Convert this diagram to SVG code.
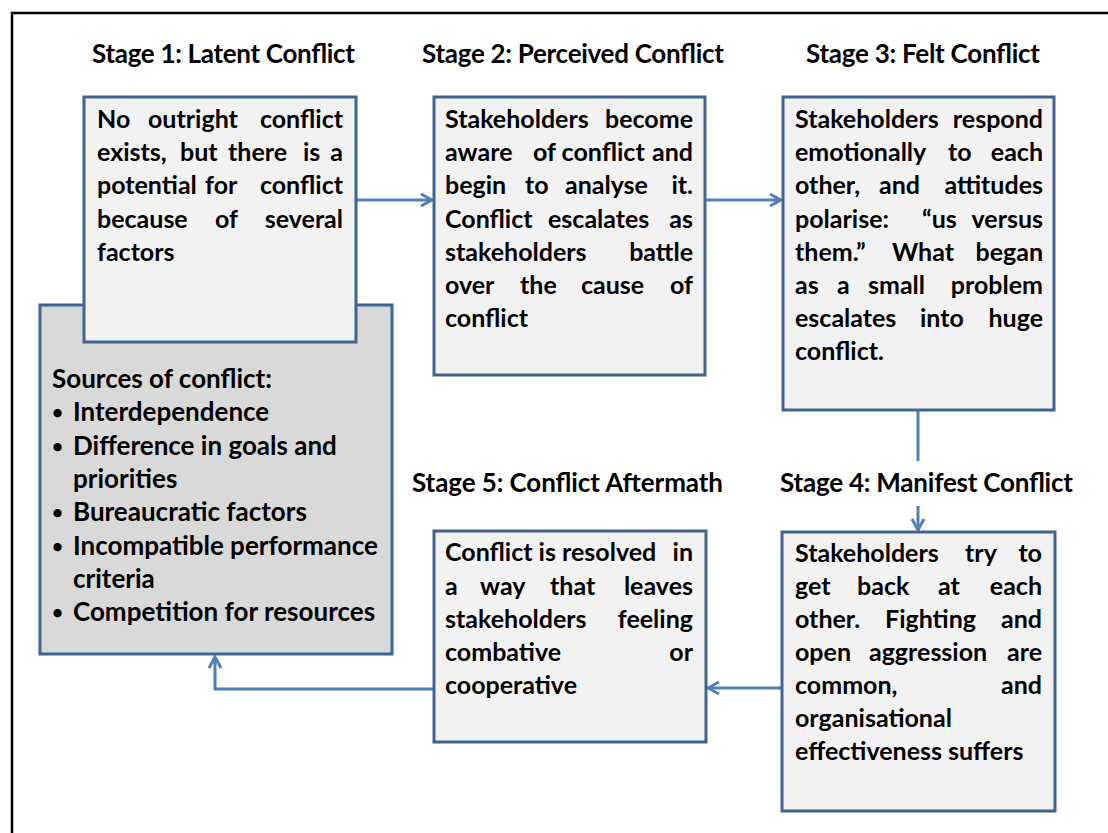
<svg xmlns="http://www.w3.org/2000/svg" width="1108" height="833" viewBox="0 0 1108 833">
<style>
.t{font-family:Lato,"Open Sans","Liberation Sans",sans-serif;font-weight:bold;font-size:25px;fill:#000}
.s{font-size:26px}
.r{text-anchor:end}
.b{font-size:19px}
.box{fill:#f2f2f2;stroke:#42638f;stroke-width:3}
.src{fill:#d9d9d9;stroke:#42638f;stroke-width:3}
.conn{stroke:#4f7fb8;stroke-width:3;fill:none}
</style>
<defs>
<marker id="ah" markerUnits="userSpaceOnUse" viewBox="-13 -8 15 16" refX="0" refY="0" markerWidth="15" markerHeight="16" orient="auto">
<path d="M-11,-6 L0,0 L-11,6" fill="none" stroke="#4f7fb8" stroke-width="3"/>
</marker>
</defs>
<rect x="12" y="13" width="1110" height="840" fill="#fff" stroke="#000" stroke-width="2.5"/>

<g id="connectors">
<path class="conn" d="M356,200 H432" marker-end="url(#ah)"/>
<path class="conn" d="M705,200 H781" marker-end="url(#ah)"/>
<path class="conn" d="M918,410 V461"/>
<path class="conn" d="M918,506 V530" marker-end="url(#ah)"/>
<path class="conn" d="M782,688 H708" marker-end="url(#ah)"/>
<path class="conn" d="M434,689 H215 V657" marker-end="url(#ah)"/>
</g>

<g id="sources">
<rect class="src" x="40" y="305" width="352" height="349"/>
<text class="t s" x="52" y="388">Sources of conflict:</text>
<text class="t b" x="52" y="419">•</text><text class="t s" x="73" y="421">Interdependence</text>
<text class="t b" x="52" y="453">•</text><text class="t s" x="73" y="455">Difference in goals and</text>
<text class="t s" x="73" y="488">priorities</text>
<text class="t b" x="52" y="519">•</text><text class="t s" x="73" y="521">Bureaucratic factors</text>
<text class="t b" x="52" y="553">•</text><text class="t s" x="73" y="555">Incompatible performance</text>
<text class="t s" x="73" y="588">criteria</text>
<text class="t b" x="52" y="619">•</text><text class="t s" x="73" y="621">Competition for resources</text>
</g>

<g id="stage1">
<text class="t s" x="92" y="63" textLength="263" lengthAdjust="spacing">Stage 1: Latent Conflict</text>
<rect class="box" x="84" y="97" width="272" height="245"/>
<text class="t" y="128"><tspan x="97">No</tspan><tspan x="148">outright</tspan></text><text class="t r" x="343" y="128">conflict</text>
<text class="t" y="161"><tspan x="97">exists,</tspan><tspan x="180">but</tspan><tspan x="228">there</tspan><tspan x="303">is</tspan></text><text class="t r" x="343" y="161">a</text>
<text class="t" y="194"><tspan x="97">potential</tspan><tspan x="205">for</tspan></text><text class="t r" x="343" y="194">conflict</text>
<text class="t" y="228"><tspan x="97">because</tspan><tspan x="215">of</tspan></text><text class="t r" x="343" y="228">several</text>
<text class="t" x="97" y="261">factors</text>
</g>

<g id="stage2">
<text class="t s" x="422" y="63" textLength="302" lengthAdjust="spacing">Stage 2: Perceived Conflict</text>
<rect class="box" x="434" y="97" width="271" height="278"/>
<text class="t" x="445" y="128">Stakeholders</text><text class="t r" x="693" y="128">become</text>
<text class="t" y="161"><tspan x="445">aware</tspan><tspan x="533">of conflict</tspan></text><text class="t r" x="693" y="161">and</text>
<text class="t" y="194"><tspan x="445">begin</tspan><tspan x="525">to</tspan><tspan x="565">analyse</tspan></text><text class="t r" x="693" y="194">it.</text>
<text class="t" y="228"><tspan x="445">Conflict</tspan><tspan x="548">escalates</tspan></text><text class="t r" x="693" y="228">as</text>
<text class="t" x="445" y="261">stakeholders</text><text class="t r" x="693" y="261">battle</text>
<text class="t" y="294"><tspan x="445">over</tspan><tspan x="520">the</tspan><tspan x="581">cause</tspan></text><text class="t r" x="693" y="294">of</text>
<text class="t" x="445" y="327">conflict</text>
</g>

<g id="stage3">
<text class="t s" x="806" y="63" textLength="234" lengthAdjust="spacing">Stage 3: Felt Conflict</text>
<rect class="box" x="783" y="97" width="271" height="313"/>
<text class="t" x="795" y="128">Stakeholders</text><text class="t r" x="1043" y="128">respond</text>
<text class="t" y="161"><tspan x="795">emotionally</tspan><tspan x="948">to</tspan></text><text class="t r" x="1043" y="161">each</text>
<text class="t" y="194"><tspan x="795">other,</tspan><tspan x="879">and</tspan></text><text class="t r" x="1043" y="194">attitudes</text>
<text class="t" y="228"><tspan x="795">polarise:</tspan><tspan x="922">“us</tspan></text><text class="t r" x="1043" y="228">versus</text>
<text class="t" y="261"><tspan x="795">them.”</tspan><tspan x="892">What</tspan></text><text class="t r" x="1043" y="261">began</text>
<text class="t" y="294"><tspan x="795">as</tspan><tspan x="837">a</tspan><tspan x="868">small</tspan></text><text class="t r" x="1043" y="294">problem</text>
<text class="t" y="327"><tspan x="795">escalates</tspan><tspan x="920">into</tspan></text><text class="t r" x="1043" y="327">huge</text>
<text class="t" x="795" y="360">conflict.</text>
</g>

<g id="stage4">
<text class="t s" x="780" y="492" textLength="293" lengthAdjust="spacing">Stage 4: Manifest Conflict</text>
<rect class="box" x="782" y="532" width="273" height="279"/>
<text class="t" y="562"><tspan x="795">Stakeholders</tspan><tspan x="965">try</tspan></text><text class="t r" x="1042" y="562">to</text>
<text class="t" y="595"><tspan x="795">get</tspan><tspan x="857">back</tspan><tspan x="938">at</tspan></text><text class="t r" x="1042" y="595">each</text>
<text class="t" y="628"><tspan x="795">other.</tspan><tspan x="885">Fighting</tspan></text><text class="t r" x="1042" y="628">and</text>
<text class="t" y="661"><tspan x="795">open</tspan><tspan x="869">aggression</tspan></text><text class="t r" x="1042" y="661">are</text>
<text class="t" x="795" y="694">common,</text><text class="t r" x="1042" y="694">and</text>
<text class="t" x="795" y="727">organisational</text>
<text class="t" x="795" y="760">effectiveness suffers</text>
</g>

<g id="stage5">
<text class="t s" x="412" y="492" textLength="311" lengthAdjust="spacing">Stage 5: Conflict Aftermath</text>
<rect class="box" x="434" y="531" width="272" height="211"/>
<text class="t" x="445" y="561">Conflict is resolved</text><text class="t r" x="693" y="561">in</text>
<text class="t" y="595"><tspan x="445">a</tspan><tspan x="480">way</tspan><tspan x="550">that</tspan></text><text class="t r" x="693" y="595">leaves</text>
<text class="t" x="445" y="628">stakeholders</text><text class="t r" x="693" y="628">feeling</text>
<text class="t" x="445" y="661">combative</text><text class="t r" x="693" y="661">or</text>
<text class="t" x="445" y="694">cooperative</text>
</g>
</svg>
